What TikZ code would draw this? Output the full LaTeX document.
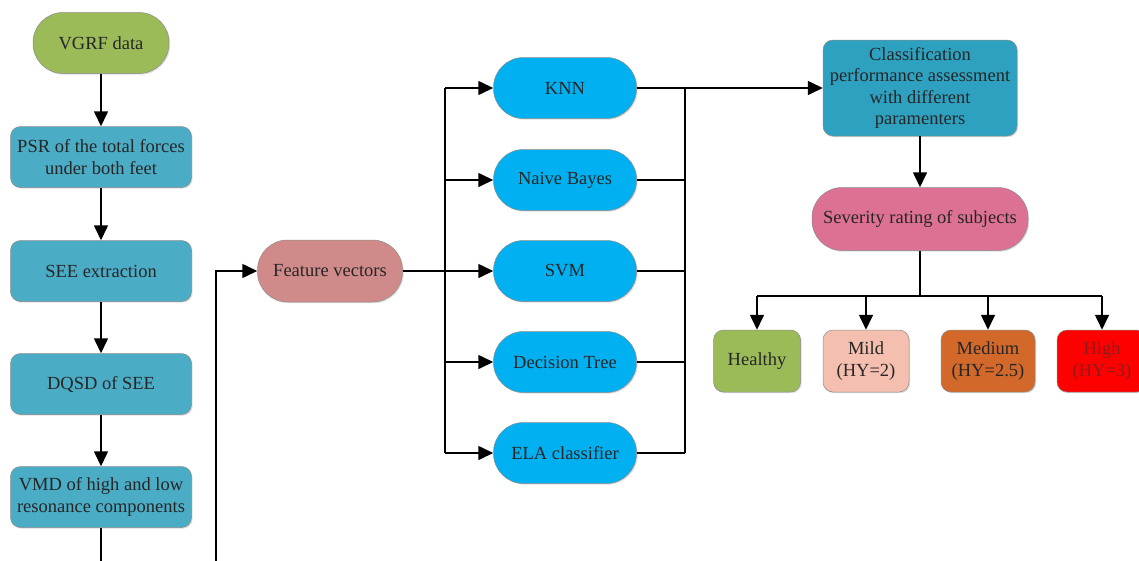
\documentclass[tikz,border=0pt]{standalone}
\usepackage{fontspec}
\setmainfont{Liberation Serif}
\usetikzlibrary{arrows.meta,shadows}
\definecolor{cgreen}{HTML}{9BBB59}
\definecolor{cteal}{HTML}{4BACC6}
\definecolor{cfeat}{HTML}{D08A8A}
\definecolor{cclf}{HTML}{00B0F0}
\definecolor{ccpa}{HTML}{2DA1BF}
\definecolor{csev}{HTML}{DD7193}
\definecolor{cmild}{HTML}{F4BFAE}
\definecolor{cmed}{HTML}{D2692B}
\definecolor{chigh}{HTML}{FF0000}
\definecolor{ctext}{HTML}{262626}
\definecolor{chightext}{HTML}{8B1C1C}
\tikzset{
  base/.style={draw=black!45, line width=0.5pt, text=ctext, align=center, inner sep=0pt,
    font=\fontsize{18.5}{21.5}\selectfont,
    drop shadow={shadow xshift=1.2pt, shadow yshift=-1.2pt, opacity=0.25}},
  stadium/.style={base, rounded corners=30pt},
  rbox/.style={base, rounded corners=10pt},
  wire/.style={line width=1.6pt, black},
  arr/.style={wire, -{Triangle[length=15pt,width=14pt]}},
}
\begin{document}
\begin{tikzpicture}[x=1pt,y=-1pt]
\useasboundingbox (0,0) rectangle (1139,560);
\clip (0,0) rectangle (1139,560);
\fill[white] (0,0) rectangle (1139,560);
% left column
\node[stadium, fill=cgreen, minimum width=136pt, minimum height=61pt] (vgrf) at (101,43) {VGRF data};
\node[rbox, fill=cteal, minimum width=181pt, minimum height=61pt] (psr) at (101,157) {PSR of the total forces\\under both feet};
\node[rbox, fill=cteal, minimum width=181pt, minimum height=61pt] (see) at (101,271) {SEE extraction};
\node[rbox, fill=cteal, minimum width=181pt, minimum height=61pt] (dqsd) at (101,384) {DQSD of SEE};
\node[rbox, fill=cteal, minimum width=181pt, minimum height=61pt] (vmd) at (101,497) {VMD of high and low\\resonance components};
% feature vectors
\node[stadium, fill=cfeat, minimum width=145pt, minimum height=62pt] (fv) at (330,271) {Feature vectors};
% classifiers
\node[stadium, fill=cclf, minimum width=143pt, minimum height=61pt] (knn) at (565,88) {KNN};
\node[stadium, fill=cclf, minimum width=143pt, minimum height=61pt] (nb) at (565,180) {Naive Bayes};
\node[stadium, fill=cclf, minimum width=143pt, minimum height=61pt] (svm) at (565,271) {SVM};
\node[stadium, fill=cclf, minimum width=143pt, minimum height=61pt] (dt) at (565,362) {Decision Tree};
\node[stadium, fill=cclf, minimum width=143pt, minimum height=61pt] (ela) at (565,453) {ELA classifier};
% right side
\node[rbox, fill=ccpa, minimum width=194pt, minimum height=96pt] (cpa) at (920,88) {Classification\\performance assessment\\with different\\paramenters};
\node[stadium, fill=csev, minimum width=216pt, minimum height=63pt] (sev) at (920,219) {Severity rating of subjects};
\node[rbox, fill=cgreen, minimum width=87pt, minimum height=62pt] (healthy) at (757,361) {Healthy};
\node[rbox, fill=cmild, minimum width=86pt, minimum height=62pt] (mild) at (866,361) {Mild\\(HY=2)};
\node[rbox, fill=cmed, minimum width=94pt, minimum height=62pt] (medium) at (988,361) {Medium\\(HY=2.5)};
\node[rbox, fill=chigh, text=chightext, minimum width=90pt, minimum height=62pt] (high) at (1102,361) {High\\(HY=3)};
% coordinates
\coordinate (v1) at (101,600);
\coordinate (v2) at (216,600);
\coordinate (bl1) at (445,88);
\coordinate (bl2) at (445,180);
\coordinate (bl3) at (445,271);
\coordinate (bl4) at (445,362);
\coordinate (bl5) at (445,453);
\coordinate (br1) at (685,88);
\coordinate (br2) at (685,180);
\coordinate (br3) at (685,271);
\coordinate (br4) at (685,362);
\coordinate (br5) at (685,453);
\coordinate (sj) at (920,296);
\coordinate (h1) at (757,296);
\coordinate (h2) at (866,296);
\coordinate (h3) at (988,296);
\coordinate (h4) at (1102,296);
% connectors
\draw[arr] (vgrf) -- (psr);
\draw[arr] (psr) -- (see);
\draw[arr] (see) -- (dqsd);
\draw[arr] (dqsd) -- (vmd);
\draw[arr] (vmd.south) -- (v1) -- (v2) |- (fv.west);
\draw[wire] (fv.east) -- (bl3);
\draw[wire] (bl1) -- (bl5);
\draw[arr] (bl1) -- (knn.west);
\draw[arr] (bl2) -- (nb.west);
\draw[arr] (bl3) -- (svm.west);
\draw[arr] (bl4) -- (dt.west);
\draw[arr] (bl5) -- (ela.west);
\draw[wire] (knn.east) -- (br1);
\draw[wire] (nb.east) -- (br2);
\draw[wire] (svm.east) -- (br3);
\draw[wire] (dt.east) -- (br4);
\draw[wire] (ela.east) -- (br5);
\draw[wire] (br1) -- (br5);
\draw[arr] (br1) -- (cpa.west);
\draw[arr] (cpa) -- (sev);
\draw[wire] (sev.south) -- (sj);
\draw[wire] (h1) -- (h4);
\draw[arr] (h1) -- (healthy.north);
\draw[arr] (h2) -- (mild.north);
\draw[arr] (h3) -- (medium.north);
\draw[arr] (h4) -- (high.north);
\end{tikzpicture}
\end{document}
